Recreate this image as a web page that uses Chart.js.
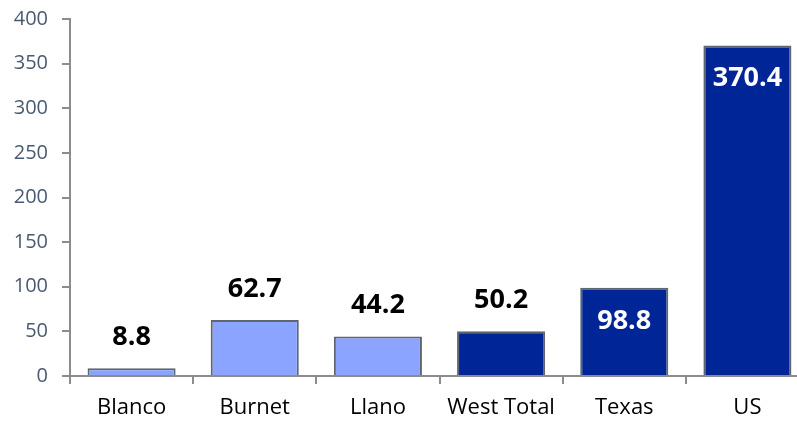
<!DOCTYPE html>
<html>
<head>
<meta charset="utf-8">
<script src="https://cdn.jsdelivr.net/npm/chart.js@4/dist/chart.umd.min.js"></script>
<style>
  html, body { margin: 0; padding: 0; background: #fff; overflow: hidden; }
  #wrap { position: absolute; left: 0; top: -7px; width: 809px; height: 429px; }
</style>
</head>
<body>
<div id="wrap"><canvas id="myChart"></canvas></div>
<script>
// chart values
const categories = ["Blanco", "Burnet", "Llano", "West Total", "Texas", "US"];
const values = [8.8, 62.7, 44.2, 50.2, 98.8, 370.4];
const yTicks = [0, 50, 100, 150, 200, 250, 300, 350, 400];

// styling: first three are counties (light), rest are totals (dark)
const lightBlue = "#8aa4ff";
const darkBlue = "#002596";
const isTotal = (i) => i >= 3;

// draws the value labels: above for short bars, inside (white) for tall dark ones
const valueLabels = {
  id: "valueLabels",
  afterDatasetsDraw(chart) {
    const ctx = chart.ctx;
    const meta = chart.getDatasetMeta(0);
    ctx.save();
    ctx.font = "bold 27px 'Open Sans'";
    ctx.textAlign = "center";
    ctx.textBaseline = "middle";
    meta.data.forEach((bar, i) => {
      const inside = i >= 4;
      ctx.fillStyle = inside ? "#ffffff" : "#000000";
      const y = inside ? bar.y + 33 : bar.y - 31;
      ctx.fillText(String(values[i]), bar.x, y);
    });
    ctx.restore();
  },
};

new Chart(document.getElementById("myChart"), {
  type: "bar",
  data: {
    labels: categories,
    datasets: [
      {
        data: values,
        backgroundColor: values.map((_, i) => (isTotal(i) ? darkBlue : lightBlue)),
        borderColor: "#5f6670",
        borderWidth: 2,
        borderSkipped: "bottom",
        barPercentage: 0.715,
        categoryPercentage: 1,
      },
    ],
  },
  options: {
    responsive: true,
    maintainAspectRatio: false,
    animation: false,
    layout: { padding: { top: 13, right: 0, bottom: 0, left: 0 } },
    plugins: {
      legend: { display: false },
      tooltip: { enabled: false },
    },
    scales: {
      x: {
        grid: {
          display: true,
          drawOnChartArea: false,
          drawTicks: true,
          tickLength: 8,
          color: "#8c8c8c",
          lineWidth: 2,
        },
        border: { color: "#8c8c8c", width: 2 },
        ticks: {
          color: "#000000",
          font: { family: "'Open Sans'", size: 22 },
          padding: 11,
        },
        afterFit(scale) {
          scale.height = 46;
        },
      },
      y: {
        min: 0,
        max: 400,
        afterBuildTicks(scale) {
          scale.ticks = yTicks.map((v) => ({ value: v }));
        },
        grid: {
          display: true,
          drawOnChartArea: false,
          drawTicks: true,
          tickLength: 8,
          color: "#8c8c8c",
          lineWidth: 2,
        },
        border: { color: "#8c8c8c", width: 2 },
        ticks: {
          color: "#4a5a70",
          font: { family: "'Open Sans'", size: 20 },
          padding: 14,
        },
        afterFit(scale) {
          scale.width = 70;
        },
      },
    },
  },
  plugins: [valueLabels],
});
</script>
</body>
</html>
